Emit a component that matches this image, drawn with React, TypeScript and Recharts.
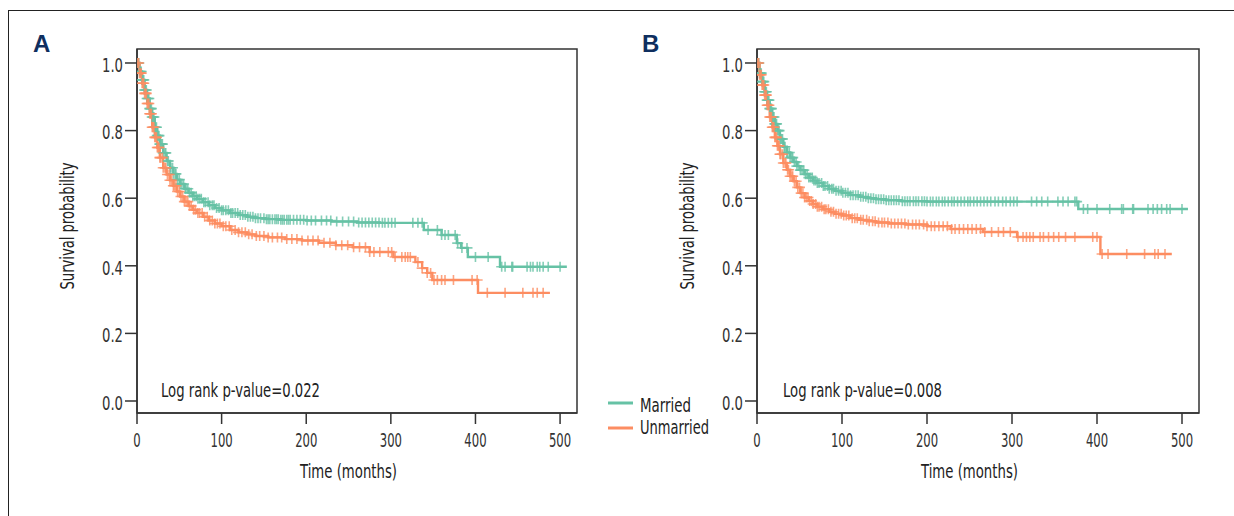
import { Line, LineChart, ReferenceArea, XAxis, YAxis } from "recharts"

const FONT = "'DejaVu Sans Condensed', 'Liberation Sans Narrow', sans-serif"
const GREEN = "#66c2a5"
const ORANGE = "#fc8d62"
const INK = "#333"
const NAVY = "#0f2f5f"

const xTicks = [0, 100, 200, 300, 400, 500]
const yTicks = [0, 0.2, 0.4, 0.6, 0.8, 1.0]
const seriesNames = ["Married", "Unmarried"]
const xMax = 520
const yMin = -0.0355
const yMax = 1.0414

// panel A
const marriedTimesA = [0, 3, 6, 9, 12, 15, 18, 21, 24, 27, 31, 35, 39, 43, 47, 51, 56, 61, 66, 71, 78, 85, 92, 100, 110, 120, 130, 140, 152, 170, 200, 230, 260, 287, 339, 360, 378, 383, 391, 429, 508]
const marriedSurvA = [1.0, 0.975, 0.95, 0.92, 0.895, 0.865, 0.84, 0.81, 0.785, 0.76, 0.734, 0.71, 0.69, 0.672, 0.655, 0.642, 0.628, 0.616, 0.606, 0.598, 0.588, 0.579, 0.571, 0.564, 0.556, 0.55, 0.545, 0.541, 0.538, 0.536, 0.534, 0.531, 0.528, 0.527, 0.506, 0.491, 0.467, 0.453, 0.426, 0.397, 0.397]
const marriedCensorA = [1, 2, 3, 4, 5, 6, 7, 8, 9, 10, 11, 12, 13, 14, 15, 16, 17, 18, 19, 20, 21, 22, 23, 24, 25, 26, 27, 28, 29, 30, 31, 33, 34, 36, 37, 39, 40, 42, 43, 45, 46, 48, 50, 51, 53, 55, 57, 58, 60, 62, 64, 66, 68, 70, 72, 74, 76, 79, 81, 84, 86, 89, 91, 94, 97, 100, 102, 105, 108, 111, 113, 116, 119, 122, 125, 128, 131, 134, 137, 140, 143, 146, 150, 153, 155, 157, 160, 163, 165, 167, 170, 172, 174, 177, 179, 181, 185, 189, 193, 197, 201, 206, 211, 218, 224, 229, 236, 243, 250, 256, 262, 266, 270, 274, 278, 282, 286, 290, 293, 297, 301, 305, 326, 332, 337, 344, 355, 360, 364, 368, 376, 379, 384, 390, 400, 415, 431, 435, 443, 444, 461, 465, 468, 473, 476, 480, 486, 500]

const unmarriedTimesA = [0, 3, 6, 9, 12, 15, 18, 21, 24, 27, 31, 35, 39, 43, 47, 51, 56, 61, 66, 71, 78, 85, 92, 100, 110, 120, 130, 140, 155, 175, 195, 215, 235, 255, 275, 303, 329, 337, 343, 349, 403, 488]
const unmarriedSurvA = [1.0, 0.97, 0.94, 0.91, 0.88, 0.85, 0.81, 0.78, 0.75, 0.72, 0.69, 0.67, 0.653, 0.637, 0.62, 0.605, 0.59, 0.577, 0.566, 0.556, 0.545, 0.534, 0.525, 0.517, 0.506, 0.499, 0.493, 0.488, 0.484, 0.479, 0.475, 0.468, 0.461, 0.455, 0.441, 0.426, 0.411, 0.393, 0.379, 0.358, 0.32, 0.32]
const unmarriedCensorA = [1, 2, 3, 4, 5, 6, 7, 8, 9, 10, 11, 12, 13, 14, 15, 16, 17, 18, 19, 20, 21, 22, 23, 24, 25, 26, 27, 28, 30, 31, 33, 34, 36, 38, 39, 41, 43, 44, 46, 48, 50, 52, 54, 56, 58, 60, 62, 64, 67, 69, 72, 74, 77, 80, 83, 86, 89, 92, 95, 98, 102, 105, 109, 112, 116, 120, 124, 128, 132, 136, 141, 145, 150, 155, 160, 166, 171, 177, 183, 189, 195, 202, 208, 214, 221, 228, 235, 242, 249, 256, 263, 270, 275, 280, 287, 297, 301, 305, 313, 317, 320, 323, 332, 337, 343, 347, 351, 355, 360, 364, 374, 396, 402, 414, 435, 456, 468, 473, 480]

// panel B
const marriedTimesB = [0, 3, 6, 9, 12, 15, 18, 21, 24, 27, 31, 35, 39, 43, 47, 51, 56, 61, 66, 71, 78, 85, 92, 100, 110, 120, 130, 140, 152, 170, 200, 378, 507]
const marriedSurvB = [1.0, 0.97, 0.945, 0.915, 0.89, 0.865, 0.84, 0.82, 0.8, 0.775, 0.752, 0.735, 0.72, 0.707, 0.695, 0.683, 0.671, 0.661, 0.652, 0.645, 0.636, 0.628, 0.622, 0.616, 0.609, 0.604, 0.6, 0.597, 0.594, 0.591, 0.59, 0.568, 0.568]
const marriedCensorB = [1, 2, 3, 4, 5, 6, 7, 8, 9, 10, 11, 12, 13, 14, 15, 16, 17, 18, 19, 20, 21, 22, 23, 24, 25, 26, 27, 28, 29, 30, 32, 33, 35, 36, 38, 39, 41, 42, 44, 46, 47, 49, 51, 53, 55, 57, 59, 61, 63, 65, 67, 69, 71, 73, 76, 78, 80, 83, 85, 88, 90, 93, 96, 99, 101, 104, 107, 110, 113, 116, 119, 122, 125, 128, 131, 134, 137, 140, 143, 146, 149, 152, 155, 158, 161, 164, 167, 171, 174, 177, 180, 184, 187, 190, 194, 197, 200, 204, 207, 211, 214, 218, 221, 225, 229, 232, 236, 240, 244, 248, 251, 255, 259, 263, 267, 271, 275, 280, 284, 289, 293, 298, 302, 306, 323, 329, 335, 342, 354, 360, 366, 374, 376, 384, 389, 400, 415, 429, 431, 442, 443, 460, 466, 471, 476, 482, 486, 500]

const unmarriedTimesB = [0, 3, 6, 9, 12, 15, 18, 21, 24, 27, 31, 35, 39, 43, 47, 51, 56, 61, 66, 71, 78, 85, 92, 100, 110, 120, 130, 140, 155, 175, 200, 228, 266, 306, 404, 488]
const unmarriedSurvB = [1.0, 0.965, 0.935, 0.905, 0.875, 0.84, 0.81, 0.78, 0.755, 0.73, 0.704, 0.684, 0.665, 0.65, 0.632, 0.615, 0.602, 0.592, 0.583, 0.575, 0.567, 0.56, 0.554, 0.549, 0.541, 0.536, 0.532, 0.528, 0.525, 0.522, 0.517, 0.509, 0.5, 0.485, 0.435, 0.435]
const unmarriedCensorB = [1, 2, 3, 4, 5, 6, 7, 8, 9, 10, 11, 12, 13, 14, 15, 16, 17, 18, 19, 20, 21, 22, 23, 24, 25, 26, 27, 28, 30, 31, 33, 34, 36, 37, 39, 41, 42, 44, 46, 48, 50, 52, 54, 56, 58, 60, 62, 64, 66, 69, 71, 73, 76, 79, 81, 84, 87, 90, 93, 96, 99, 102, 105, 108, 112, 115, 118, 122, 125, 129, 132, 136, 139, 143, 147, 150, 154, 158, 162, 166, 170, 174, 178, 183, 187, 191, 196, 200, 205, 209, 214, 219, 224, 229, 233, 238, 243, 248, 253, 258, 263, 268, 276, 284, 290, 298, 307, 313, 317, 321, 325, 333, 337, 343, 349, 355, 363, 374, 395, 400, 406, 413, 435, 456, 468, 472, 480]

type Row = { t: number; s: number; c: boolean }

const buildCurve = (times: number[], surv: number[], censor: number[]): Row[] => {
  const stepAt = (t: number) => {
    let s = surv[0]
    times.forEach((tt, i) => {
      if (tt <= t) s = surv[i]
    })
    return s
  }
  const rows: Row[] = times.map((t, i) => ({ t, s: surv[i], c: false }))
  censor.forEach((t) => rows.push({ t, s: stepAt(t), c: true }))
  return rows.sort((a, b) => a.t - b.t || Number(a.c) - Number(b.c))
}

const censorMark = (color: string) => (props: any) => {
  const { cx, cy, payload, index } = props
  if (!payload || !payload.c || cx == null || cy == null) return <g key={`n${index}`} />
  return (
    <path
      key={`c${index}`}
      d={`M${cx - 5.5},${cy}h11M${cx},${cy - 5}v10`}
      stroke={color}
      strokeWidth={1.6}
      strokeOpacity={0.8}
      fill="none"
    />
  )
}

// condensed text: squeeze DejaVu Condensed to the narrow look of the original
const NarrowText = ({ width, children, ...rest }: any) => (
  <text fontFamily={FONT} fill="#222" fontSize={20} textLength={width} lengthAdjust="spacingAndGlyphs" {...rest}>
    {children}
  </text>
)

const XTick = ({ x, y, payload }: any) => {
  const label = String(payload.value)
  return (
    <NarrowText x={x} y={y} dy="0.71em" textAnchor="middle" fontSize={19} fill={INK} width={label.length * 7.4}>
      {label}
    </NarrowText>
  )
}

const YTick = ({ x, y, payload }: any) => {
  const label = Number(payload.value).toFixed(1)
  return (
    <NarrowText x={x} y={y + 2} dy="0.355em" textAnchor="end" fontSize={19} fill={INK} width={21}>
      {label}
    </NarrowText>
  )
}

interface PanelProps {
  width: number
  married: Row[]
  unmarried: Row[]
}

const SurvivalPanel = ({ width, married, unmarried }: PanelProps) => (
  <LineChart width={width} height={516} margin={{ top: 49, right: 23, bottom: 43, left: 57 }}>
    <XAxis
      type="number"
      dataKey="t"
      domain={[0, xMax]}
      ticks={xTicks}
      allowDataOverflow
      height={60}
      tickSize={11}
      tickMargin={10}
      stroke={INK}
      strokeWidth={1.5}
      tick={<XTick />}
      label={({ viewBox }: any) => (
        <NarrowText x={viewBox.x + (viewBox.width * 250) / xMax} y={viewBox.y + 65} textAnchor="middle" width={97}>
          Time (months)
        </NarrowText>
      )}
    />
    <YAxis
      type="number"
      domain={[yMin, yMax]}
      ticks={yTicks}
      allowDataOverflow
      width={80}
      tickSize={12}
      tickMargin={2}
      stroke={INK}
      strokeWidth={1.5}
      tick={<YTick />}
      label={({ viewBox }: any) => {
        const x = viewBox.x + 17
        const y = viewBox.y + viewBox.height / 2 - 5
        return (
          <NarrowText x={x} y={y} transform={`rotate(-90, ${x}, ${y})`} textAnchor="middle" width={127}>
            Survival probability
          </NarrowText>
        )
      }}
    />
    <ReferenceArea x1={0} x2={xMax} y1={yMin} y2={yMax} fill="none" stroke={INK} strokeWidth={1.5} ifOverflow="visible" />
    <Line
      data={married}
      dataKey="s"
      name={seriesNames[0]}
      type="stepAfter"
      stroke={GREEN}
      strokeWidth={2.4}
      dot={censorMark(GREEN)}
      activeDot={false}
      isAnimationActive={false}
    />
    <Line
      data={unmarried}
      dataKey="s"
      name={seriesNames[1]}
      type="stepAfter"
      stroke={ORANGE}
      strokeWidth={2.4}
      dot={censorMark(ORANGE)}
      activeDot={false}
      isAnimationActive={false}
    />
  </LineChart>
)

const App = () => {
  const marriedA = buildCurve(marriedTimesA, marriedSurvA, marriedCensorA)
  const unmarriedA = buildCurve(unmarriedTimesA, unmarriedSurvA, unmarriedCensorA)
  const marriedB = buildCurve(marriedTimesB, marriedSurvB, marriedCensorB)
  const unmarriedB = buildCurve(unmarriedTimesB, unmarriedSurvB, unmarriedCensorB)

  return (
    <div style={{ position: "fixed", left: 0, top: 0, width: 1234, height: 516, background: "#fff", overflow: "hidden" }}>
      <div style={{ position: "absolute", left: 8, top: 10, right: -2, bottom: -2, borderTop: "1px solid #222", borderLeft: "1px solid #222" }} />
      <div style={{ position: "absolute", left: 0, top: 0 }}>
        <SurvivalPanel width={600} married={marriedA} unmarried={unmarriedA} />
      </div>
      <div style={{ position: "absolute", left: 620, top: 0 }}>
        <SurvivalPanel width={602} married={marriedB} unmarried={unmarriedB} />
      </div>
      <svg width={1234} height={516} style={{ position: "absolute", left: 0, top: 0, pointerEvents: "none" }}>
        <text x={33} y={52} fontSize={24} fontWeight="bold" fontFamily="'Liberation Sans', Arial, sans-serif" fill={NAVY}>
          A
        </text>
        <text x={642} y={52} fontSize={24} fontWeight="bold" fontFamily="'Liberation Sans', Arial, sans-serif" fill={NAVY}>
          B
        </text>
        <NarrowText x={161} y={397} width={159}>
          Log rank p-value=0.022
        </NarrowText>
        <NarrowText x={783} y={397} width={159}>
          Log rank p-value=0.008
        </NarrowText>
        <line x1={608} x2={633} y1={403} y2={403} stroke={GREEN} strokeWidth={3} />
        <line x1={608} x2={633} y1={428} y2={428} stroke={ORANGE} strokeWidth={3} />
        <NarrowText x={640} y={412} width={51}>
          {seriesNames[0]}
        </NarrowText>
        <NarrowText x={640} y={434} width={69}>
          {seriesNames[1]}
        </NarrowText>
      </svg>
    </div>
  )
}

export default App
